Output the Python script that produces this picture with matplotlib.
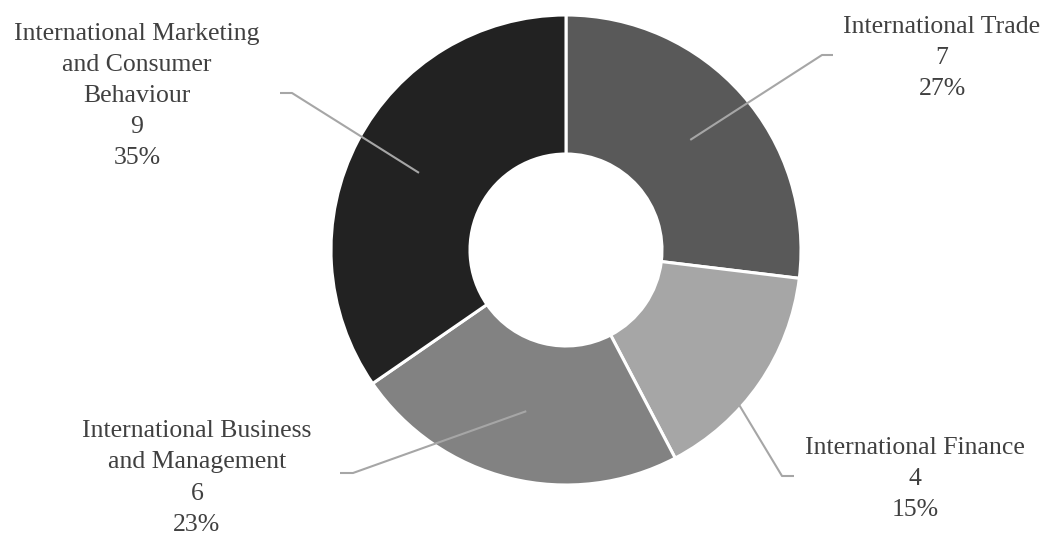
import numpy as np
import matplotlib
matplotlib.use("Agg")
import matplotlib.pyplot as plt

# 各方向课程数量
categories = ["International Trade", "International Finance",
              "International Business\nand Management",
              "International Marketing\nand Consumer\nBehaviour"]
counts = [7, 4, 6, 9]
colors = ["#595959", "#a6a6a6", "#828282", "#222222"]

# 标签位置（像素，y 从上往下）：文字中心、折点、横线末端
label_pos = [(942, 58), (915, 479), (197, 478), (137, 96)]
elbow_pos = [(822, 55), (782, 476), (353, 473), (292, 93)]
end_pos = [(833, 55), (794, 476), (340, 473), (280, 93)]

W, H = 1050, 536
cx, cy = 566, 250
R = 235
hole = 96

plt.rcParams['font.family'] = ['Liberation Serif', 'DejaVu Serif']

fig = plt.figure(figsize=(W / 100, H / 100), dpi=100)
ax = fig.add_axes([0, 0, 1, 1])

wedges, _ = ax.pie(counts, radius=R, center=(cx, H - cy), startangle=90,
                   counterclock=False, colors=colors,
                   wedgeprops=dict(width=R - hole, edgecolor="white", linewidth=2.2))

total = sum(counts)
for i, w in enumerate(wedges):
    # 引线：从扇区中部出发，经折点到标签
    mid = np.deg2rad((w.theta1 + w.theta2) / 2)
    sx = cx + 166 * np.cos(mid)
    sy = (H - cy) + 166 * np.sin(mid)
    ex, ey = elbow_pos[i]
    tx, ty = end_pos[i]
    ax.plot([sx, ex, tx], [sy, H - ey, H - ty], color="#a6a6a6", lw=1.5,
            solid_capstyle="butt", zorder=3)
    pct = round(counts[i] / total * 100)
    lx, ly = label_pos[i]
    ax.text(lx, H - ly, f"{categories[i]}\n{counts[i]}\n{pct}%",
            ha="center", va="center", multialignment="center",
            fontsize=18.5, color="#404040", linespacing=1.54)

ax.set_xlim(0, W)
ax.set_ylim(0, H)
ax.set_aspect("equal")
ax.axis("off")

fig.savefig("out.png", dpi=100, facecolor="white")
